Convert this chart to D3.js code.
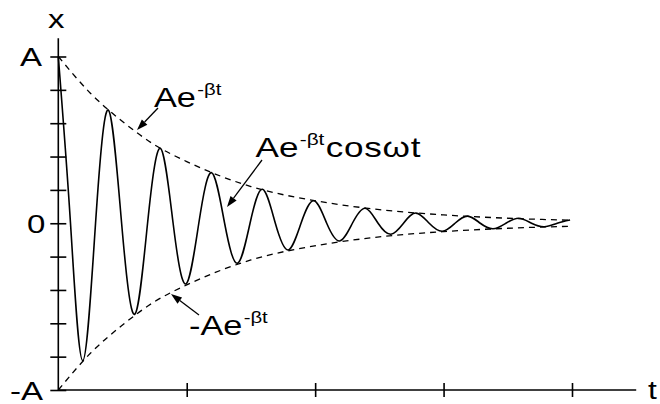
<!DOCTYPE html>
<html>
<head>
<meta charset="utf-8">
<script src="https://cdn.jsdelivr.net/npm/d3@7"></script>
<style>
  html, body { margin: 0; padding: 0; background: #fff; }
  svg { display: block; }
  text { font-family: "Liberation Sans", Arial, sans-serif; fill: #000; }
</style>
</head>
<body>
<svg id="chart" width="660" height="404"></svg>
<script>
// ---- data ----
// times (t) of the local extrema of the damped oscillation and their values (in units of A)
const extremaT = [0, 0.19, 0.39, 0.595, 0.795, 0.993, 1.194, 1.395, 1.59, 1.79, 1.99, 2.19, 2.39, 2.59, 2.785, 2.99, 3.187, 3.385, 3.585, 3.785, 3.985];
const extremaX = [1.0, -0.824, 0.679, -0.546, 0.449, -0.364, 0.303, -0.240, 0.204, -0.160, 0.135, -0.106, 0.090, -0.066, 0.061, -0.048, 0.043, -0.033, 0.030, -0.021, 0.019];
// times where the oscillation crosses x = 0
const zeroT = [0.095, 0.29, 0.493, 0.695, 0.894, 1.094, 1.295, 1.493, 1.69, 1.89, 2.09, 2.29, 2.49, 2.688, 2.888, 3.089, 3.286, 3.485, 3.685, 3.885];
// envelope A·e^(-βt) read at these times
const envT = [0, 0.25, 0.5, 0.75, 1, 1.5, 2, 2.5, 3, 3.5, 4];
const envX = [1, 0.78, 0.61, 0.47, 0.37, 0.22, 0.135, 0.082, 0.05, 0.03, 0.018];
// axis ticks
const xTickValues = [1, 2, 3, 4];
const yTickValues = [-1, -0.8, -0.6, -0.4, -0.2, 0, 0.2, 0.4, 0.6, 0.8, 1];
const yLabelValues = [1, 0, -1];
const yLabelTexts = ["A", "0", "-A"];

// ---- layout ----
const svg = d3.select("#chart");
const x = d3.scaleLinear().domain([0, 4]).range([58.3, 572]);
const y = d3.scaleLinear().domain([-1, 1]).range([390, 56.5]);
const SX = 1.27; // horizontal stretch of the lettering

function stretchedText(g, px, py, size, sx) {
  return g.append("text")
    .attr("transform", `translate(${px},${py}) scale(${sx || SX},1)`)
    .attr("font-size", size);
}

// axes lines
const axisG = svg.append("g").attr("stroke", "#000").attr("stroke-width", 1.6);
axisG.append("line").attr("x1", x(0)).attr("x2", x(0)).attr("y1", y(1.11)).attr("y2", y(-1));
axisG.append("line").attr("x1", x(0)).attr("x2", x(4.5)).attr("y1", y(-1)).attr("y2", y(-1));

// y ticks crossing the axis
const yAxis = d3.axisLeft(y).tickValues(yTickValues).tickSize(8).tickFormat("");
const yg = svg.append("g").attr("transform", `translate(${x(0)},0)`).call(yAxis);
yg.select(".domain").remove();
yg.selectAll(".tick line").attr("x1", 8).attr("x2", -8).attr("stroke", "#000").attr("stroke-width", 1.6);

// x ticks crossing the axis
const xAxis = d3.axisBottom(x).tickValues(xTickValues).tickSize(7).tickFormat("");
const xg = svg.append("g").attr("transform", `translate(0,${y(-1)})`).call(xAxis);
xg.select(".domain").remove();
xg.selectAll(".tick line").attr("y1", -7).attr("y2", 7).attr("stroke", "#000").attr("stroke-width", 1.6);

// y labels
const labelPos = { "A": [20, 66], "0": [27, 232], "-A": [10, 397] };
yLabelValues.forEach((v, i) => {
  const t = yLabelTexts[i];
  stretchedText(svg, labelPos[t][0], y(v) + 9.5, 26).text(t);
});
// axis titles
stretchedText(svg, 48, 28, 26).text("x");
stretchedText(svg, 648, 399, 25).text("t");

// envelopes
const envUpper = envT.map((t, i) => [t, envX[i]]);
const envLower = envT.map((t, i) => [t, -envX[i]]);
const envLine = d3.line().x(d => x(d[0])).y(d => y(d[1])).curve(d3.curveMonotoneX);
[envUpper, envLower].forEach(data => {
  svg.append("path").attr("d", envLine(data))
    .attr("fill", "none").attr("stroke", "#000").attr("stroke-width", 1.3)
    .attr("stroke-dasharray", "6,5");
});

// damped oscillation
const pts = extremaT.map((t, i) => [t, extremaX[i]])
  .concat(zeroT.map(t => [t, 0]))
  .sort((a, b) => a[0] - b[0]);
const curveLine = d3.line().x(d => x(d[0])).y(d => y(d[1])).curve(d3.curveNatural);
svg.append("path").attr("d", curveLine(pts))
  .attr("fill", "none").attr("stroke", "#000").attr("stroke-width", 1.6);

// annotation arrows
function arrow(x1, y1, x2, y2) {
  const ang = Math.atan2(y2 - y1, x2 - x1);
  const L = 11, W = 3.8;
  const bx = x2 - L * Math.cos(ang), by = y2 - L * Math.sin(ang);
  svg.append("line").attr("x1", x1).attr("y1", y1).attr("x2", bx).attr("y2", by)
    .attr("stroke", "#000").attr("stroke-width", 1.3);
  const px = -Math.sin(ang) * W, py = Math.cos(ang) * W;
  svg.append("polygon")
    .attr("points", `${x2},${y2} ${bx + px},${by + py} ${bx - px},${by - py}`)
    .attr("fill", "#000");
}
arrow(158, 108, 137, 130);
arrow(262, 160, 227, 207);
arrow(199, 315, 171, 294);

// formula labels
function formula(px, py, main, sup, tail, sx) {
  const t = stretchedText(svg, px, py, 27, sx);
  t.append("tspan").text(main);
  t.append("tspan").attr("font-size", 16).attr("dy", -12).attr("dx", 1).text(sup);
  if (tail) t.append("tspan").attr("dy", 12).attr("dx", 1).attr("letter-spacing", 0.6).text(tail);
}
formula(154, 107, "Ae", "-βt");
formula(255.5, 157, "Ae", "-βt", "cosωt", 1.3);
formula(189, 335, "-Ae", "-βt");
</script>
</body>
</html>
